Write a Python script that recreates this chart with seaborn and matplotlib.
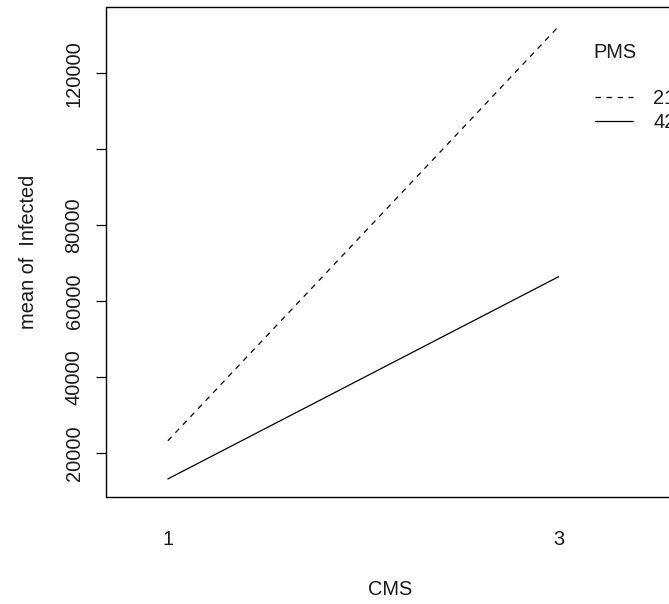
import matplotlib
matplotlib.use("Agg")
import matplotlib.pyplot as plt
import seaborn as sns
import pandas as pd

# ---- data ----
cms_levels = ["1", "3"]
pms_levels = ["21", "42"]
infected_pms21 = [23300, 132300]
infected_pms42 = [13250, 66450]
y_ticks = [20000, 40000, 60000, 80000, 100000, 120000]
y_tick_labels = ["20000", "40000", "60000", "80000", "", "120000"]

rows = []
for pms, vals in zip(pms_levels, [infected_pms21, infected_pms42]):
    for i, (c, v) in enumerate(zip(cms_levels, vals)):
        rows.append({"pos": i + 1, "CMS": c, "PMS": pms, "Infected": v})
df = pd.DataFrame(rows)

sns.set_style("white")
plt.rcParams["font.family"] = ["Liberation Sans", "DejaVu Sans"]
FS = 14.4
W, H = 669, 604
TXT = "#1a1a1a"

fig = plt.figure(figsize=(W / 100, H / 100), dpi=100)
ax = fig.add_axes([106.5 / W, 107 / H, 567 / W, 490 / H])

sns.lineplot(data=df, x="pos", y="Infected", hue="PMS", style="PMS",
             palette={"21": "black", "42": "black"},
             dashes={"21": (4.4, 4.4), "42": ""},
             linewidth=0.9, legend=False, ax=ax, errorbar=None)

ax.set_xlim(0.843, 2.294)
ax.set_ylim(8500, 137400)

ax.set_xticks([1, 2], cms_levels)
ax.set_yticks(y_ticks, y_tick_labels)
ax.tick_params(axis="x", length=0, pad=23.8, labelsize=FS, labelcolor=TXT)
ax.tick_params(axis="y", length=7.4, width=0.9, pad=9.1, labelsize=FS,
               direction="out", labelrotation=90, left=True,
               color="black", labelcolor=TXT)
for lbl in ax.get_yticklabels():
    lbl.set_va("center")

for s in ax.spines.values():
    s.set_visible(True)
    s.set_color("black")
    s.set_linewidth(1.0)

ax.set_xlabel("CMS", fontsize=FS, color=TXT)
ax.set_ylabel("mean of  Infected", fontsize=FS, color=TXT)
ax.xaxis.set_label_coords(0.5, (497 - 580) / 490)
ax.xaxis.label.set_va("top")
ax.yaxis.set_label_coords((37.5 - 106.5) / 567, 0.5)

handles = ax.get_lines()[:2]
leg = ax.legend(handles=handles, labels=pms_levels, loc="upper left",
                bbox_to_anchor=(595 / W, 1 - 88.5 / H), bbox_transform=fig.transFigure,
                frameon=False, fontsize=FS, handlelength=1.9, handletextpad=1.0,
                labelspacing=0.25, borderpad=0, borderaxespad=0)
for t in leg.get_texts():
    t.set_color(TXT)
fig.text(615 / W, 1 - 52.7 / H, "PMS", ha="center", va="center", fontsize=FS, color=TXT)

fig.savefig("out.png", dpi=100)
